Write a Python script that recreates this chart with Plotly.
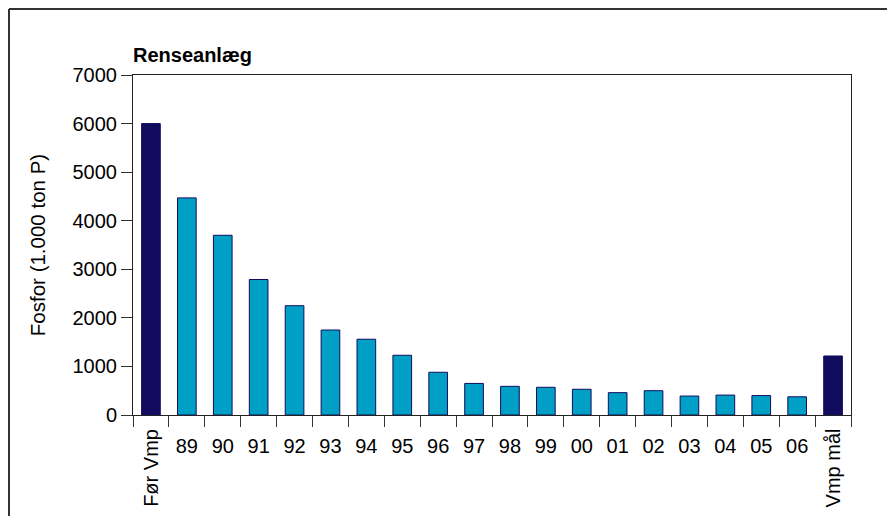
import plotly.graph_objects as go

categories = ["Før Vmp", "89", "90", "91", "92", "93", "94", "95", "96", "97",
              "98", "99", "00", "01", "02", "03", "04", "05", "06", "Vmp mål"]
values = [6000, 4470, 3700, 2790, 2250, 1750, 1560, 1230, 880, 650,
          590, 570, 530, 460, 500, 390, 410, 400, 375, 1215]
rotated_labels = ["Før Vmp", "Vmp mål"]
y_ticks = [0, 1000, 2000, 3000, 4000, 5000, 6000, 7000]

NAVY = "#120C5E"
CYAN = "#00A0C6"
FONT = "Liberation Sans, Arial, Helvetica, sans-serif"

colors = [NAVY if c in rotated_labels else CYAN for c in categories]
tick_text = ["" if c in rotated_labels else c for c in categories]

fig = go.Figure(go.Bar(
    x=categories, y=values,
    marker=dict(color=colors, line=dict(color=NAVY, width=1)),
    width=0.52,
))

for lab in rotated_labels:
    fig.add_annotation(x=lab, y=-0.035, xref="x", yref="paper",
                       text=lab, textangle=-90, showarrow=False,
                       xanchor="center", yanchor="top",
                       font=dict(family=FONT, size=20, color="black"))

fig.add_annotation(x=-0.003, y=1.059, xref="paper", yref="paper",
                   text="<b>Renseanlæg</b>", showarrow=False,
                   xanchor="left", yanchor="middle",
                   font=dict(family=FONT, size=20, color="black"))

# outer frame (left and top edges)
fig.add_shape(type="line", xref="paper", yref="paper",
              x0=-0.1727, x1=-0.1727, y0=1.194, y1=-0.4,
              line=dict(color="#333333", width=2))
fig.add_shape(type="line", xref="paper", yref="paper",
              x0=-0.1727, x1=1.1, y0=1.194, y1=1.194,
              line=dict(color="#333333", width=2))

fig.update_layout(
    width=887, height=508,
    margin=dict(l=125, r=44, t=67, b=101),
    plot_bgcolor="white", paper_bgcolor="white",
    showlegend=False,
    font=dict(family=FONT, size=20, color="black"),
)
fig.update_xaxes(
    tickmode="array", tickvals=categories, ticktext=tick_text,
    tickangle=0, ticks="outside", tickson="boundaries", ticklen=11,
    tickcolor="#333333", ticklabelstandoff=13,
    showline=True, linecolor="#222222", linewidth=1, mirror=True,
    showgrid=False, tickfont=dict(size=20),
)
fig.update_yaxes(
    range=[0, 7000], tickvals=y_ticks, ticks="outside", ticklen=11,
    tickcolor="#333333",
    showline=True, linecolor="#222222", linewidth=1, mirror=True,
    showgrid=False, zeroline=False, tickfont=dict(size=20),
    title=dict(text="Fosfor (1.000 ton P)", font=dict(size=20.5), standoff=21),
)

fig.write_html("out.html")
